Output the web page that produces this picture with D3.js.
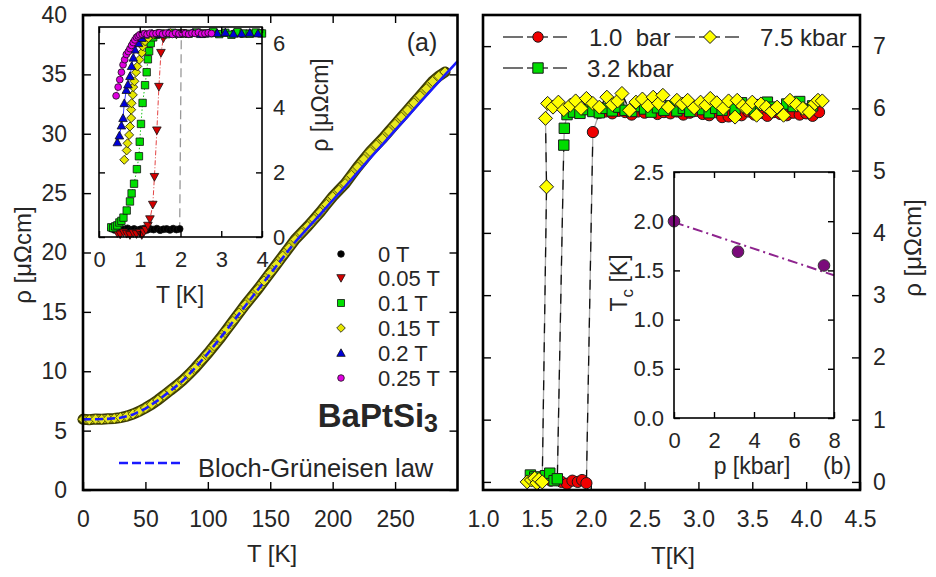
<!DOCTYPE html>
<html>
<head>
<meta charset="utf-8">
<script src="https://cdn.jsdelivr.net/npm/d3@7"></script>
<style>
body { margin: 0; background: #fff; }
svg text { font-family: "Liberation Sans", Arial, Helvetica, sans-serif; fill: #262626; }
</style>
</head>
<body>
<svg id="chart" width="936" height="577"></svg>
<script>
// ---- panel (a): rho(T) up to room temperature ----
var mainT = [0,5,10,15,20,25,30,35,40,45,50,55,60,65,70,75,80,85,90,95,100,105,110,115,120,125,130,135,140,145,
  150,155,160,165,170,175,180,185,190,195,200,205,210,215,220,225,230,235,240,245,250,255,260,265,270,275,280,285,290];
var mainRho = [5.95,5.92,5.97,5.95,6.0,6.02,6.1,6.22,6.4,6.62,6.9,7.22,7.58,7.98,8.4,8.8,9.25,9.75,10.3,10.9,
  11.5,12.15,12.8,13.5,14.2,14.9,15.6,16.25,16.9,17.6,18.3,19.0,19.7,20.4,21.1,21.65,22.2,22.8,23.4,24.05,
  24.7,25.25,25.8,26.5,27.2,27.85,28.5,29.05,29.6,30.2,30.8,31.4,32.0,32.6,33.2,33.8,34.4,34.85,35.2];

// Bloch-Grueneisen fit
var fitT = [0,10,20,30,40,50,60,70,80,90,100,110,120,130,140,150,160,170,180,190,200,210,220,230,240,250,260,270,280,290,300];
var fitRho = [5.95,5.96,5.99,6.08,6.35,6.85,7.55,8.35,9.2,10.3,11.5,12.8,14.15,15.5,16.85,18.2,19.55,20.9,22.05,23.2,
  24.4,25.55,26.75,27.95,29.1,30.3,31.45,32.65,33.8,34.95,36.1];

var mainXTicks = [0,50,100,150,200,250];
var mainYTicks = [0,5,10,15,20,25,30,35,40];

// inset of (a): low-T transitions in field
var fieldLabels = ["0 T","0.05 T","0.1 T","0.15 T","0.2 T","0.25 T"];

var t0 = [0.3,0.38,0.46,0.54,0.62,0.7,0.78,0.86,0.94,1.02,1.1,1.18,1.26,1.34,1.42,1.5,1.58,1.66,1.74,1.82,1.9,1.98,
  2.02,2.1,2.3,2.5,2.7,2.9,3.1,3.3,3.5,3.7,3.9,4.0];
var r0 = [0.26,0.22,0.25,0.2,0.24,0.27,0.22,0.25,0.21,0.24,0.26,0.22,0.25,0.23,0.26,0.21,0.24,0.25,0.22,0.26,0.23,0.25,
  6.28,6.3,6.32,6.28,6.31,6.29,6.33,6.3,6.28,6.31,6.3,6.32];

var t005 = [0.45,0.52,0.6,0.68,0.76,0.84,0.92,1.0,1.05,1.1,1.15,1.2,1.25,1.32,1.36,1.42,1.47,1.52,1.58,1.65,1.75,1.9,2.05,2.2,2.4,2.6];
var r005 = [0.12,0.08,0.14,0.1,0.06,0.12,0.09,0.13,0.06,0.15,0.22,0.35,0.55,1.0,1.86,3.3,4.65,5.7,6.15,6.28,6.3,6.27,6.31,6.29,6.32,6.3];

var t01 = [0.3,0.35,0.4,0.45,0.5,0.55,0.6,0.68,0.76,0.8,0.86,0.93,0.98,1.0,1.03,1.07,1.13,1.17,1.2,1.23,1.27,1.33,1.4,1.5,
  1.65,1.8,2.0,2.2,2.4,2.6,2.8,2.95,3.1,3.25,3.4,3.55,3.7,3.85,4.0];
var r01 = [0.3,0.28,0.33,0.36,0.45,0.5,0.6,0.82,1.1,1.35,1.65,2.1,2.5,2.95,3.5,4.15,4.7,5.1,5.5,5.75,6.0,6.18,6.26,6.3,
  6.28,6.32,6.3,6.29,6.33,6.3,6.35,6.28,6.32,6.26,6.34,6.3,6.29,6.33,6.3];

var t015 = [0.62,0.68,0.7,0.74,0.76,0.79,0.79,0.8,0.83,0.84,0.87,0.91,0.94,0.99,1.05,1.07,1.13,1.21,1.33,1.45,1.6,1.75,1.9,2.05];
var r015 = [2.39,2.68,2.9,3.16,3.42,3.68,3.94,4.14,4.4,4.64,4.82,5.1,5.28,5.49,5.7,5.9,6.06,6.16,6.26,6.3,6.28,6.31,6.29,6.3];

var t02 = [0.45,0.5,0.55,0.59,0.62,0.67,0.71,0.76,0.8,0.84,0.88,0.97,1.05,1.13,1.3,1.5,1.7,1.9,2.1,2.3,2.5,2.7,2.9,3.1,3.3,3.5,3.7,3.9];
var r02 = [2.93,3.14,3.45,3.68,4.14,4.55,4.72,4.98,5.29,5.55,5.8,6.0,6.16,6.26,6.3,6.28,6.31,6.29,6.3,6.32,6.28,6.3,6.31,6.33,6.29,6.3,6.32,6.3];

var t025 = [0.42,0.47,0.51,0.55,0.59,0.63,0.67,0.72,0.76,0.8,0.84,0.88,0.92,0.96,1.0,1.06,1.12,1.18,1.25,1.32,1.4,1.48,1.56,
  1.64,1.72,1.8,1.88,1.96,2.04,2.12,2.2,2.28,2.36,2.44,2.52,2.6,2.68,2.76];
var r025 = [4.37,4.64,4.87,5.1,5.33,5.49,5.65,5.74,5.83,5.93,6.02,6.1,6.18,6.22,6.26,6.28,6.3,6.27,6.31,6.29,6.3,6.32,6.28,
  6.31,6.3,6.27,6.32,6.29,6.31,6.3,6.28,6.31,6.3,6.33,6.29,6.3,6.32,6.3];

var insetXTicks = [0,1,2,3,4];
var insetYTicks = [0,2,4,6];

// ---- panel (b): transitions under pressure ----
var pressLabels = ["1.0  bar","3.2 kbar","7.5 kbar"];

var tP1 = [1.5,1.55,1.59,1.63,1.68,1.73,1.78,1.83,1.88,1.92,1.96,2.02,
  2.08,2.14,2.2,2.26,2.32,2.38,2.44,2.5,2.56,2.62,2.68,2.74,2.8,2.86,2.92,2.98,3.04,3.1,3.16,3.22,3.28,3.34,3.4,3.46,
  3.52,3.58,3.64,3.7,3.76,3.82,3.88,3.94,4.0,4.06,4.12];
var rP1 = [0.06,0.08,0.05,0.02,0.03,0.0,-0.03,0.02,0.0,0.03,-0.02,5.62,
  5.93,5.95,5.92,5.96,5.94,5.9,5.95,5.93,5.97,5.91,5.94,5.92,5.95,5.9,5.93,5.96,5.91,5.89,5.94,5.86,5.87,5.92,5.89,5.95,
  5.9,5.93,5.88,5.94,5.91,5.89,5.93,5.9,5.92,5.88,5.94];

var tP32 = [1.44,1.48,1.53,1.58,1.62,1.66,1.69,1.75,1.755,
  1.78,1.84,1.9,1.96,2.02,2.08,2.14,2.2,2.26,2.32,2.38,2.44,2.5,2.56,2.62,2.68,2.74,2.8,2.86,2.92,2.98,3.04,3.1,3.16,
  3.22,3.28,3.34,3.4,3.46,3.52,3.58,3.64,3.7,3.76,3.82,3.88,3.94,4.0,4.06];
var rP32 = [0.11,0.08,0.05,0.1,0.14,0.02,0.05,5.41,5.68,
  5.9,5.94,5.92,5.98,5.95,5.93,6.0,5.96,6.02,5.97,5.95,6.03,5.99,5.94,6.01,5.97,6.04,5.96,6.0,5.95,6.02,5.98,5.93,6.0,
  5.97,6.05,5.99,6.09,6.01,5.96,6.06,6.1,6.02,5.98,6.07,6.03,6.11,5.99,6.04];

var tP75 = [1.41,1.45,1.48,1.5,1.52,1.55,1.59,1.58,1.6,
  1.65,1.7,1.75,1.81,1.86,1.91,1.96,2.02,2.08,2.15,2.2,2.25,2.29,2.36,2.42,2.48,2.53,2.58,2.63,2.67,2.72,2.8,2.85,2.9,
  2.96,3.02,3.07,3.11,3.17,3.23,3.28,3.34,3.36,3.41,3.45,3.5,3.54,3.58,3.63,3.68,3.73,3.79,3.85,3.91,3.97,4.03,4.08,4.11,4.15];
var rP75 = [0.0,0.03,0.06,-0.02,0.04,0.0,4.74,5.84,6.08,
  6.02,6.1,5.98,6.05,6.12,6.0,6.16,6.08,6.02,6.18,6.06,6.12,6.24,5.97,6.1,6.15,6.04,6.18,6.08,6.21,6.02,6.13,6.07,6.13,
  6.01,6.1,6.05,6.16,6.09,6.0,6.12,5.86,6.13,6.04,6.0,6.1,5.89,6.07,6.02,5.95,6.02,5.89,6.13,6.06,6.0,5.94,6.08,6.13,6.12];

var rightXTicks = [1.0,1.5,2.0,2.5,3.0,3.5,4.0,4.5];
var rightYTicks = [0,1,2,3,4,5,6,7];

// inset of (b): Tc(p)
var pressures = [0, 3.2, 7.5];
var tcValues = [2.0, 1.69, 1.55];
var tcFitP = [0, 8];
var tcFitTc = [1.99, 1.45];
var pTicks = [0,2,4,6,8];
var tcTicks = [0,0.5,1.0,1.5,2.0,2.5];

// ---------------------------------------------------------------
var svg = d3.select("#chart");
var FONT = "'Liberation Sans', Arial, Helvetica, sans-serif";
var intFmt = d3.format("d");

function zip(a, b) { return a.map(function (v, i) { return [v, b[i]]; }); }

function markerPath(type, s) {
  if (type === "circle") return "M" + (-s) + ",0A" + s + "," + s + " 0 1,0 " + s + ",0A" + s + "," + s + " 0 1,0 " + (-s) + ",0Z";
  if (type === "square") return "M" + (-s) + "," + (-s) + "H" + s + "V" + s + "H" + (-s) + "Z";
  if (type === "diamond") return "M0," + (-s) + "L" + s + ",0L0," + s + "L" + (-s) + ",0Z";
  if (type === "triUp") return "M0," + (-s) + "L" + s + "," + (s * 0.8) + "L" + (-s) + "," + (s * 0.8) + "Z";
  return "M0," + s + "L" + s + "," + (-s * 0.8) + "L" + (-s) + "," + (-s * 0.8) + "Z";
}

function styleAxis(g, size) {
  g.attr("font-family", FONT).attr("font-size", size);
  g.select(".domain").remove();
  g.selectAll(".tick line").attr("stroke", "#000").attr("stroke-width", 1.4);
  g.selectAll(".tick text").attr("fill", "#262626");
}

function drawMarkers(g, pts, sx, sy, type, size, fill, stroke, sw) {
  g.append("g").selectAll("path").data(pts).enter().append("path")
    .attr("d", markerPath(type, size))
    .attr("transform", function (d) { return "translate(" + sx(d[0]) + "," + sy(d[1]) + ")"; })
    .attr("fill", fill).attr("stroke", stroke).attr("stroke-width", sw);
}

// ================= panel (a) =================
var x = d3.scaleLinear().domain([0, 300]).range([83, 457.5]);
var y = d3.scaleLinear().domain([0, 40]).range([490, 15]);

svg.append("g").attr("transform", "translate(0,490)")
  .call(d3.axisBottom(x).tickValues(mainXTicks).tickSize(-8).tickPadding(21).tickFormat(intFmt)).call(styleAxis, 23);
svg.append("g").attr("transform", "translate(0,15)")
  .call(d3.axisTop(x).tickValues(mainXTicks.slice(1)).tickSize(-8).tickFormat("")).call(styleAxis, 23);
svg.append("g").attr("transform", "translate(83,0)")
  .call(d3.axisLeft(y).tickValues(mainYTicks).tickSize(-8).tickPadding(16).tickFormat(intFmt)).call(styleAxis, 23);
svg.append("g").attr("transform", "translate(457.5,0)")
  .call(d3.axisRight(y).tickValues(mainYTicks).tickSize(-8).tickFormat("")).call(styleAxis, 23);

var mainPts = zip(mainT, mainRho);
var mainLine = d3.line().x(function (d) { return x(d[0]); }).y(function (d) { return y(d[1]); });
svg.append("path").datum(mainPts).attr("d", mainLine).attr("fill", "none")
  .attr("stroke", "#3d3d05").attr("stroke-width", 11).attr("stroke-linecap", "round");
svg.append("path").datum(mainPts).attr("d", mainLine).attr("fill", "none")
  .attr("stroke", "#c9c915").attr("stroke-width", 7.5);
drawMarkers(svg, mainPts, x, y, "diamond", 5, "#e8e820", "#4a4a00", 0.8);

var fitPts = zip(fitT, fitRho);
svg.append("path").datum(fitPts.filter(function (d) { return d[0] <= 170; })).attr("d", mainLine)
  .attr("fill", "none").attr("stroke", "#1a1aff").attr("stroke-width", 2.6).attr("stroke-dasharray", "8,4");
svg.append("path").datum(fitPts.filter(function (d) { return d[0] >= 170; })).attr("d", mainLine)
  .attr("fill", "none").attr("stroke", "#1a1aff").attr("stroke-width", 2.6);

svg.append("rect").attr("x", 83).attr("y", 15).attr("width", 374.5).attr("height", 475)
  .attr("fill", "none").attr("stroke", "#000").attr("stroke-width", 2.6);

svg.append("text").attr("x", 272).attr("y", 562).attr("text-anchor", "middle").attr("font-size", 24).text("T [K]");
svg.append("text").attr("transform", "translate(31,255) rotate(-90)").attr("text-anchor", "middle")
  .attr("font-size", 24).text("ρ [μΩcm]");
svg.append("text").attr("x", 422).attr("y", 51).attr("text-anchor", "middle").attr("font-size", 25).text("(a)");

var bpt = svg.append("text").attr("x", 438).attr("y", 427).attr("text-anchor", "end")
  .attr("font-size", 33).attr("font-weight", "bold");
bpt.append("tspan").text("BaPtSi");
bpt.append("tspan").attr("dy", 5).attr("font-size", 25).text("3");

// legend (a)
var seriesA = [
  { t: t0, r: r0, type: "circle", fill: "#000000", line: "#999999", dash: "9,5", lw: 1.3 },
  { t: t005, r: r005, type: "triDown", fill: "#d40000", line: "#e03030", dash: "5,2,1,2", lw: 0.9 },
  { t: t01, r: r01, type: "square", fill: "#00e000", line: "#00c000", dash: "1.5,2", lw: 0.9 },
  { t: t015, r: r015, type: "diamond", fill: "#e6e600", line: "#c8c800", dash: null, lw: 0.8 },
  { t: t02, r: r02, type: "triUp", fill: "#0000d8", line: "#2020ff", dash: null, lw: 0.9 },
  { t: t025, r: r025, type: "circle", fill: "#e000e0", line: "#e000e0", dash: null, lw: 0.6 }
];
var legSize = { circle: 3.3, triDown: 4.2, square: 3.5, diamond: 4.3, triUp: 4.2 };
var legRowsA = [254, 278, 303, 328, 353, 378];
seriesA.forEach(function (s, i) {
  svg.append("path").attr("d", markerPath(s.type, legSize[s.type]))
    .attr("transform", "translate(341," + legRowsA[i] + ")")
    .attr("fill", s.fill).attr("stroke", "#111").attr("stroke-width", 0.8);
  svg.append("text").attr("x", 378).attr("y", legRowsA[i] + 8).attr("font-size", 22).text(fieldLabels[i]);
});

svg.append("line").attr("x1", 119).attr("x2", 182).attr("y1", 463).attr("y2", 463)
  .attr("stroke", "#1a1aff").attr("stroke-width", 2.6).attr("stroke-dasharray", "9,4");
svg.append("text").attr("x", 198).attr("y", 477).attr("font-size", 25.5).text("Bloch-Grüneisen law");

// ---- inset (a) ----
var xi = d3.scaleLinear().domain([0, 4]).range([99, 262]);
var yi = d3.scaleLinear().domain([0, 6.5]).range([237, 27]);
svg.append("rect").attr("x", 99).attr("y", 27).attr("width", 163).attr("height", 210).attr("fill", "#fff");

var insetLine = d3.line().x(function (d) { return xi(d[0]); }).y(function (d) { return yi(d[1]); });
seriesA.forEach(function (s) {
  var p = svg.append("path").datum(zip(s.t, s.r)).attr("d", insetLine).attr("fill", "none")
    .attr("stroke", s.line).attr("stroke-width", s.lw);
  if (s.dash) p.attr("stroke-dasharray", s.dash);
});
var inSize = { circle: 3.4, triDown: 4.3, square: 3.7, diamond: 4.5, triUp: 4.3 };
seriesA.forEach(function (s) {
  drawMarkers(svg, zip(s.t, s.r), xi, yi, s.type, inSize[s.type], s.fill, "#111", 0.8);
});

svg.append("g").attr("transform", "translate(0,237)")
  .call(d3.axisBottom(xi).tickValues(insetXTicks).tickSize(-6).tickPadding(14).tickFormat(intFmt)).call(styleAxis, 22);
svg.append("g").attr("transform", "translate(0,27)")
  .call(d3.axisTop(xi).tickValues(insetXTicks).tickSize(-6).tickFormat("")).call(styleAxis, 22);
svg.append("g").attr("transform", "translate(262,0)")
  .call(d3.axisRight(yi).tickValues(insetYTicks).tickSize(-6).tickPadding(11).tickFormat(intFmt)).call(styleAxis, 22);
svg.append("g").attr("transform", "translate(99,0)")
  .call(d3.axisLeft(yi).tickValues(insetYTicks).tickSize(-6).tickFormat("")).call(styleAxis, 22);
svg.append("rect").attr("x", 99).attr("y", 27).attr("width", 163).attr("height", 210)
  .attr("fill", "none").attr("stroke", "#000").attr("stroke-width", 1.6);

svg.append("text").attr("x", 180).attr("y", 303).attr("text-anchor", "middle").attr("font-size", 23).text("T [K]");
svg.append("text").attr("transform", "translate(328,105) rotate(-90)").attr("text-anchor", "middle")
  .attr("font-size", 23).text("ρ [μΩcm]");

// ================= panel (b) =================
var xr = d3.scaleLinear().domain([1, 4.5]).range([483, 860]);
var yr = d3.scaleLinear().domain([-0.13, 7.5]).range([490, 15]);

svg.append("g").attr("transform", "translate(0,490)")
  .call(d3.axisBottom(xr).tickValues(rightXTicks).tickSize(-8).tickPadding(21).tickFormat(d3.format(".1f")))
  .call(styleAxis, 23);
svg.append("g").attr("transform", "translate(860,0)")
  .call(d3.axisRight(yr).tickValues(rightYTicks).tickSize(-8).tickPadding(13).tickFormat(intFmt)).call(styleAxis, 23);
svg.append("g").attr("transform", "translate(483,0)")
  .call(d3.axisLeft(yr).tickValues(rightYTicks).tickSize(-8).tickFormat("")).call(styleAxis, 23);

var seriesB = [
  { t: tP1, r: rP1, type: "circle", size: 5.6, fill: "#f00000" },
  { t: tP32, r: rP32, type: "square", size: 5.2, fill: "#00dd00" },
  { t: tP75, r: rP75, type: "diamond", size: 7, fill: "#ffff00" }
];
var rLine = d3.line().x(function (d) { return xr(d[0]); }).y(function (d) { return yr(d[1]); });
seriesB.forEach(function (s) {
  var pts = zip(s.t, s.r);
  svg.append("path").datum(pts).attr("d", rLine).attr("fill", "none").attr("stroke", "#a8a8a8").attr("stroke-width", 1.3);
  svg.append("path").datum(pts).attr("d", rLine).attr("fill", "none").attr("stroke", "#111")
    .attr("stroke-width", 1.3).attr("stroke-dasharray", "10,9");
});
seriesB.forEach(function (s) {
  drawMarkers(svg, zip(s.t, s.r), xr, yr, s.type, s.size, s.fill, "#1a1a1a", 1);
});

svg.append("rect").attr("x", 483).attr("y", 15).attr("width", 377).attr("height", 475)
  .attr("fill", "none").attr("stroke", "#000").attr("stroke-width", 2.6);

svg.append("text").attr("x", 673).attr("y", 564).attr("text-anchor", "middle").attr("font-size", 24).text("T[K]");
svg.append("text").attr("transform", "translate(921,248) rotate(-90)").attr("text-anchor", "middle")
  .attr("font-size", 24).text("ρ [μΩcm]");

// legend (b)
var legB = [
  { cx: 538, cy: 37, tx: 589 },
  { cx: 538, cy: 68, tx: 587 },
  { cx: 710, cy: 37, tx: 760 }
];
var segs = [[-35, -15], [-11, -5], [5, 10], [15, 29]];
seriesB.forEach(function (s, i) {
  var L = legB[i];
  segs.forEach(function (sg) {
    svg.append("line").attr("x1", L.cx + sg[0]).attr("x2", L.cx + sg[1]).attr("y1", L.cy).attr("y2", L.cy)
      .attr("stroke", "#111").attr("stroke-width", 1.2);
  });
  svg.append("path").attr("d", markerPath(s.type, s.type === "diamond" ? 6.5 : 5.2))
    .attr("transform", "translate(" + L.cx + "," + L.cy + ")")
    .attr("fill", s.fill).attr("stroke", "#1a1a1a").attr("stroke-width", 1);
  svg.append("text").attr("x", L.tx).attr("y", L.cy + 8.5).attr("font-size", 24)
    .style("white-space", "pre").text(pressLabels[i]);
});

// ---- inset (b) ----
var xp = d3.scaleLinear().domain([0, 8]).range([674, 834]);
var yp = d3.scaleLinear().domain([0, 2.5]).range([418, 172]);
svg.append("rect").attr("x", 674).attr("y", 172).attr("width", 160).attr("height", 246).attr("fill", "#fff");

svg.append("g").attr("transform", "translate(674,0)")
  .call(d3.axisLeft(yp).tickValues(tcTicks).tickSize(-6).tickPadding(10).tickFormat(d3.format(".1f")))
  .call(styleAxis, 22);
svg.append("g").attr("transform", "translate(834,0)")
  .call(d3.axisRight(yp).tickValues(tcTicks).tickSize(-6).tickFormat("")).call(styleAxis, 22);
svg.append("g").attr("transform", "translate(0,418)")
  .call(d3.axisBottom(xp).tickValues(pTicks).tickSize(-6).tickPadding(14).tickFormat(intFmt)).call(styleAxis, 22);
svg.append("g").attr("transform", "translate(0,172)")
  .call(d3.axisTop(xp).tickValues(pTicks).tickSize(-6).tickFormat("")).call(styleAxis, 22);

var pLine = d3.line().x(function (d) { return xp(d[0]); }).y(function (d) { return yp(d[1]); });
svg.append("path").datum(zip(tcFitP, tcFitTc)).attr("d", pLine).attr("fill", "none")
  .attr("stroke", "#8e248e").attr("stroke-width", 2).attr("stroke-dasharray", "10,4,2,4");
drawMarkers(svg, zip(pressures, tcValues), xp, yp, "circle", 5.8, "#7a0a7a", "#333", 1);

svg.append("rect").attr("x", 674).attr("y", 172).attr("width", 160).attr("height", 246)
  .attr("fill", "none").attr("stroke", "#000").attr("stroke-width", 1.6);

svg.append("text").attr("x", 752).attr("y", 474).attr("text-anchor", "middle").attr("font-size", 23).text("p [kbar]");
svg.append("text").attr("x", 837).attr("y", 474).attr("text-anchor", "middle").attr("font-size", 23).text("(b)");
var tcl = svg.append("text").attr("transform", "translate(627,283) rotate(-90)").attr("text-anchor", "middle")
  .attr("font-size", 23);
tcl.append("tspan").text("T");
tcl.append("tspan").attr("dy", 6).attr("font-size", 17).text("c");
tcl.append("tspan").attr("dy", -6).text(" [K]");
</script>
</body>
</html>
